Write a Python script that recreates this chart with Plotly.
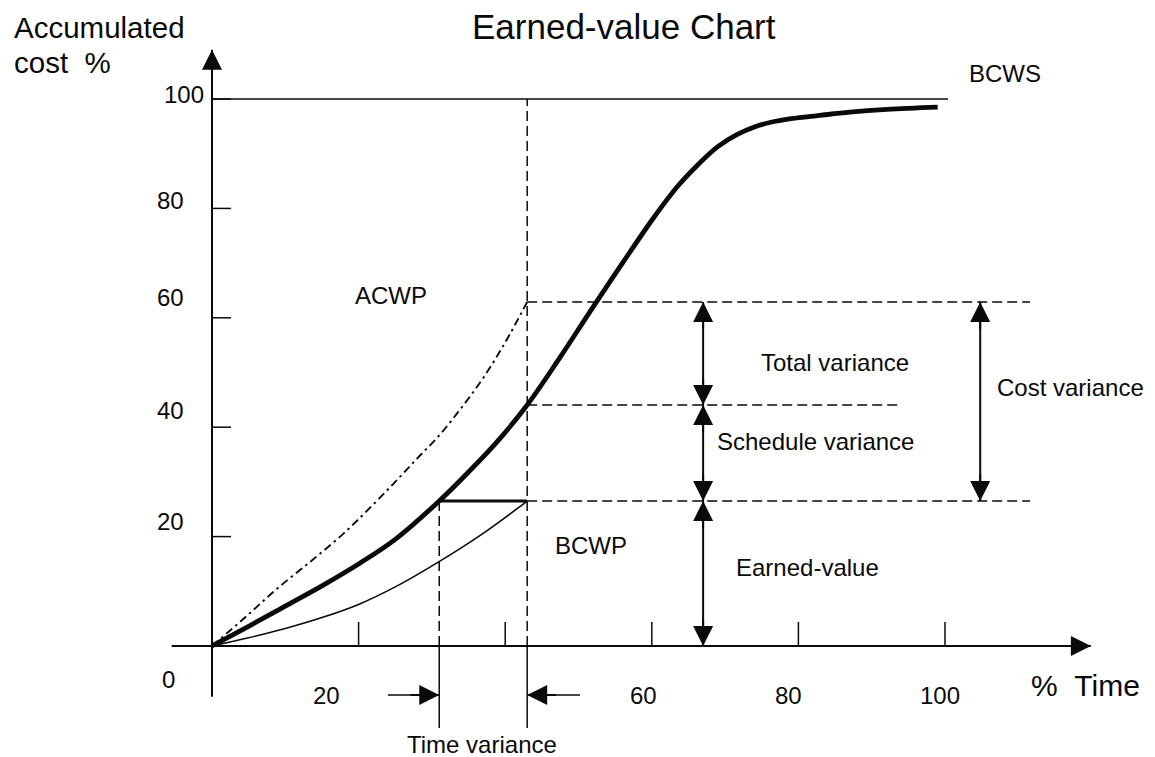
import plotly.graph_objects as go

# ---------------- data ----------------
bcws_time = [0, 5, 10, 15, 20, 25, 31, 35, 39, 43, 47.5, 52, 56, 60.2, 63.5, 66.6, 69, 71.6, 74, 76.1, 79, 82.9, 87, 92.1, 99]
bcws_cost = [0, 3.6, 7.3, 11.0, 15.0, 19.5, 26.5, 31.8, 37.5, 44.06, 52.8, 62.0, 70.0, 78.2, 84.0, 88.4, 91.3, 93.5, 94.9, 95.7, 96.4, 97.0, 97.6, 98.1, 98.5]

bcwp_time = [0, 5, 10, 15, 20, 25, 30.7, 37, 43]
bcwp_cost = [0, 1.5, 3.2, 5.2, 7.6, 10.8, 15.2, 20.6, 26.5]

acwp_time = [0, 4.5, 8.9, 13.5, 17.9, 21.5, 25, 28, 31, 34, 37, 40, 43]
acwp_cost = [0, 5.2, 10.5, 15.5, 20.5, 25.2, 30, 34.3, 38.5, 43.5, 49, 55.5, 62.9]

budget_total = 100
status_time = 43        # reporting date (% time)
earned_time = 31        # time at which BCWS equals current BCWP
acwp_now = 62.9
bcws_now = 44.06
bcwp_now = 26.5

x_ticks = [20, 40, 60, 80, 100]
x_tick_labels = ["20", "", "60", "80", "100"]
y_ticks = [20, 40, 60, 80, 100]
y_tick_labels = ["20", "40", "60", "80", "100"]

# ---------------- layout helpers ----------------
FONT = "Liberation Sans, Arial, sans-serif"
INK = "#0a0a0a"
X_RANGE = [-27.83, 129.74]
Y_RANGE = [-21.76, 116.64]

fig = go.Figure()

fig.add_trace(go.Scatter(x=acwp_time, y=acwp_cost, mode="lines",
                         line=dict(color=INK, width=1.9, dash="8px,4px,2.5px,4px", shape="spline", smoothing=1.0),
                         hoverinfo="skip", showlegend=False))
fig.add_trace(go.Scatter(x=bcwp_time, y=bcwp_cost, mode="lines",
                         line=dict(color=INK, width=1.6, shape="spline", smoothing=1.0),
                         hoverinfo="skip", showlegend=False))
fig.add_trace(go.Scatter(x=bcws_time, y=bcws_cost, mode="lines",
                         line=dict(color=INK, width=4.8, shape="spline", smoothing=1.0),
                         hoverinfo="skip", showlegend=False))

shapes = []


def seg(x0, y0, x1, y1, width=1.5, dash=None):
    ln = dict(color=INK, width=width)
    if dash:
        ln["dash"] = dash
    shapes.append(dict(type="line", xref="x", yref="y", x0=x0, y0=y0, x1=x1, y1=y1, line=ln, layer="above"))


annotations = []


def head(tx, ty, fx, fy):
    """arrowhead with tip at (tx,ty) pointing away from (fx,fy)"""
    annotations.append(dict(x=tx, y=ty, ax=fx, ay=fy, xref="x", yref="y", axref="x", ayref="y",
                            text="", showarrow=True, arrowhead=2, arrowsize=2, arrowwidth=2,
                            arrowcolor=INK, standoff=0, font=dict(size=1), borderpad=0))


def label(x, y, text, size=24, xanchor="center"):
    annotations.append(dict(x=x, y=y, xref="x", yref="y", text=text, showarrow=False,
                            xanchor=xanchor, yanchor="middle",
                            font=dict(family=FONT, size=size, color=INK)))


# axes with arrows
x_axis_start, x_axis_end = -5.5, 119.9
y_axis_start, y_axis_end = -9.3, 109.0
seg(x_axis_start, 0, x_axis_end, 0, width=2)
seg(0, y_axis_start, 0, y_axis_end, width=2)
head(x_axis_end, 0, x_axis_end - 5, 0)
head(0, y_axis_end, 0, y_axis_end - 6)

# ticks
for t in x_ticks:
    seg(t, 0, t, 4.4, width=1.5)
for t in y_ticks:
    seg(0, t, 2.6, t, width=1.5)

# budget line
seg(0, budget_total, 100.4, budget_total, width=1.5)

DASH = "10px,5px"
# verticals at reporting date and earned time
seg(status_time, 0, status_time, budget_total, dash=DASH)
seg(earned_time, 0, earned_time, bcwp_now, dash=DASH)
seg(status_time, 0, status_time, -15, width=1.5)
seg(earned_time, 0, earned_time, -15, width=1.5)
# horizontal guides
seg(status_time, acwp_now, 111.6, acwp_now, dash=DASH)
seg(status_time, bcws_now, 93.6, bcws_now, dash=DASH)
seg(status_time, bcwp_now, 111.6, bcwp_now, dash=DASH)
seg(earned_time, bcwp_now, status_time, bcwp_now, width=3)

# variance double arrows
var_x = 67.0
cost_x = 104.8
seg(var_x, 0, var_x, acwp_now, width=2)
seg(cost_x, bcwp_now, cost_x, acwp_now, width=2)
for lo, hi in [(bcws_now, acwp_now), (bcwp_now, bcws_now), (0, bcwp_now)]:
    head(var_x, hi, var_x, hi - 5)
    head(var_x, lo, var_x, lo + 5)
head(cost_x, acwp_now, cost_x, acwp_now - 5)
head(cost_x, bcwp_now, cost_x, bcwp_now + 5)

# time-variance arrows
tv_y = -8.96
seg(24.0, tv_y, earned_time, tv_y, width=1.5)
seg(50.2, tv_y, status_time, tv_y, width=1.5)
head(earned_time, tv_y, earned_time - 4, tv_y)
head(status_time, tv_y, status_time + 4, tv_y)

# tick labels
x_label_dx = [-4.4, -1.2, -1.2, -1.4, -0.7]
for t, txt, dx in zip(x_ticks, x_tick_labels, x_label_dx):
    if txt:
        label(t + dx, -9.0, txt)
y_label_dy = [2.7, 3.1, 3.8, 1.5, 0.9]
for t, txt, dy in zip(y_ticks, y_tick_labels, y_label_dy):
    label(-5.6 + (len(txt) - 2) * 1.8, t + dy, txt)
label(-6.0, -6.2, "0")

# texts
label(56.2, 113.2, "Earned-value Chart", size=35)
label(-27.3, 113.0, "Accumulated", size=29.5, xanchor="left")
label(-27.3, 106.6, "cost&nbsp;&nbsp;%", size=29.5, xanchor="left")
label(119.2, -7.3, "%&nbsp;&nbsp;Time", size=30)
label(108.2, 104.6, "BCWS")
label(24.4, 64.0, "ACWP")
label(51.7, 18.3, "BCWP")
label(81.2, 14.4, "Earned-value")
label(85.0, 51.9, "Total variance")
label(82.4, 37.3, "Schedule variance")
label(117.1, 47.2, "Cost variance")
label(36.8, -18.1, "Time variance")

fig.update_layout(
    width=1155, height=757, autosize=False,
    margin=dict(l=0, r=0, t=0, b=0),
    paper_bgcolor="white", plot_bgcolor="white",
    xaxis=dict(range=X_RANGE, visible=False, fixedrange=True),
    yaxis=dict(range=Y_RANGE, visible=False, fixedrange=True),
    shapes=shapes, annotations=annotations, showlegend=False,
)

fig.write_html("out.html")
